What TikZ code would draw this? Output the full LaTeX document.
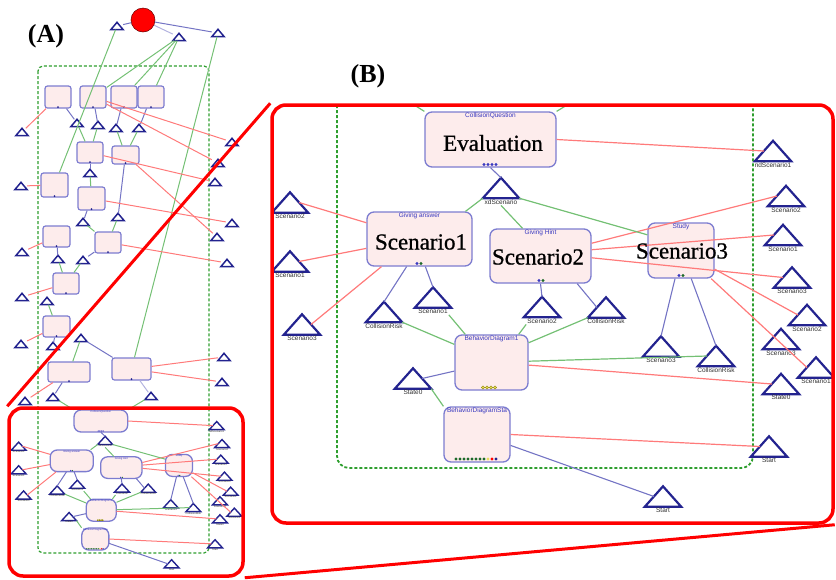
\documentclass[tikz,border=0pt]{standalone}
\usepackage{fontspec}
\setmainfont{Liberation Serif}
\newfontfamily\uifont{Liberation Sans}
\newfontfamily\wordfont[FakeBold=0.8]{Liberation Serif}

\definecolor{boxfill}{HTML}{FDECEC}
\definecolor{boxline}{HTML}{7C7CD0}
\definecolor{trinavy}{HTML}{23238F}
\definecolor{edgered}{HTML}{FF7A7A}
\definecolor{edgegreen}{HTML}{74C074}
\definecolor{edgeblue}{HTML}{7474C4}
\definecolor{labblue}{HTML}{3A3AC0}
\definecolor{labgray}{HTML}{303030}
\definecolor{dashgreen}{HTML}{2E9E2E}
\definecolor{portgreen}{HTML}{1E6A2A}
\definecolor{portyellow}{HTML}{E6DC5A}

\tikzset{
  statebox/.style={draw=boxline, fill=boxfill, line width=1.3pt, rounded corners=7pt, inner sep=0pt},
  boxlab/.style={anchor=north, inner sep=1.5pt, text=labblue, font=\uifont\fontsize{6.5}{7}\selectfont},
  tri/.style={inner sep=0pt, minimum width=36pt, minimum height=20pt},
  triline/.style={draw=trinavy, line width=2.2pt},
  trilab/.style={anchor=north, inner sep=1pt, text=labgray, font=\uifont\fontsize{6.5}{7}\selectfont},
  redge/.style={draw=edgered, line width=1.2pt},
  gedge/.style={draw=edgegreen, line width=1.2pt},
  bedge/.style={draw=edgeblue, line width=1.1pt},
  bigword/.style={inner sep=0pt, font=\wordfont\fontsize{23}{23}\selectfont},
  panel/.style={inner sep=0pt, font=\bfseries\fontsize{26}{26}\selectfont},
  zoomframe/.style={draw=red, line width=3.5pt, rounded corners=14pt, inner sep=0pt},
  callout/.style={draw=red, line width=3pt},
  container/.style={draw=dashgreen, line width=1.8pt, dash pattern=on 3pt off 2pt, rounded corners=12pt},
  minibox/.style={draw=boxline, fill=boxfill, line width=1.2pt, rounded corners=2.5pt, inner sep=0pt},
  minitri/.style={inner sep=0pt, minimum width=12pt, minimum height=7pt},
  minitriline/.style={draw=trinavy, line width=1.5pt},
}

\newcommand\statenode[6]{%
  \node[statebox, minimum width=#4, minimum height=#5] (#1) at (#2,#3) {};
  \node[boxlab] (#1-t) at (#1.north) {#6};
}
\newcommand\trinode[4]{%
  \node[tri] (#1) at (#2,#3) {};
  \draw[triline] (#1.south west) -- (#1.north) -- (#1.south east) -- cycle;
  \node[trilab] (#1-t) at (#1.south) {#4};
  \coordinate (#1-l) at (#2-9,#3);
  \coordinate (#1-r) at (#2+9,#3);
}

\newcommand\scenegraph{%
  \statenode{eval}{490.5}{139.5}{131}{55}{CollisionQuestion}
  \statenode{sc1}{419.5}{239}{105}{54}{Giving answer}
  \statenode{sc2}{540.5}{256}{101}{54}{Giving Hint}
  \statenode{sc3}{681}{250.5}{66}{55}{Study}
  \statenode{bd1}{491.5}{362.5}{73}{55}{BehaviorDiagram1}
  \statenode{bds}{477}{434.5}{66}{55}{BehaviorDiagramSta}
  \foreach \x in {484,488,492,496} \fill[labblue] (\x,164.5) circle (1.7);
  \fill[labblue] (417,263.5) circle (1.7); \fill[portgreen] (421,263.5) circle (1.7);
  \fill[labblue] (539,280.5) circle (1.7); \fill[portgreen] (543,280.5) circle (1.7);
  \fill[labblue] (679,275.5) circle (1.7); \fill[portgreen] (683,275.5) circle (1.7);
  \foreach \x in {483,487,491,495} \filldraw[fill=portyellow, draw=olive, line width=0.4pt] (\x,387.5) circle (1.6);
  \foreach \x in {456,460,...,484} \fill[portgreen] (\x,459) circle (1.7);
  \fill[portyellow] (488,459) circle (1.7);
  \fill[red] (492,459) circle (1.7);
  \fill[trinavy] (496,459) circle (1.7);
  \foreach \n/\x/\y/\lab in {xd/501/188/xdScenario, endS1/773/151/ndScenario1,
      rS2a/786/196/Scenario2, rS1a/783/235/Scenario1, rS3a/792/277.5/Scenario3,
      rS2b/807/315/Scenario2, rS3b/781/339/Scenario3, rS1b/816/367.5/Scenario1,
      rState/781/384/State0, rStart/769/446.5/Start, bStart/663/496.5/Start,
      s3Tri/661/346.5/Scenario3, s3Risk/716/356/CollisionRisk,
      s2Risk/606/307.5/CollisionRisk, s2Tri/542/307/Scenario2,
      lS2/290/202.5/Scenario2, lS1/290/261.5/Scenario1, lS3/302/324.5/Scenario3,
      s1Risk/384/312/CollisionRisk, s1Tri/433/297.5/Scenario1, lState/413/378.5/State0}
    {\trinode{\n}{\x}{\y}{\lab}}
  \draw[redge] (eval.east) -- (endS1-l);
  \draw[redge] (sc1.163) -- (lS2-r);
  \draw[redge] (sc1.190) -- (lS1-r);
  \draw[redge] (sc1.216) -- (lS3-r);
  \draw[redge] (sc2.14) -- (rS2a-l);
  \draw[redge] (sc2.7) -- (rS1a-l);
  \draw[redge] (sc2.358) -- (rS3a-l);
  \draw[redge] (sc3.331) -- (rS2b-l);
  \draw[redge] (sc3.317) -- (rS1b-l);
  \draw[redge] (bd1.356) -- (rState-l);
  \draw[redge] (bds.east) -- (rStart-l);
  \draw[bedge] (eval.south) -- (xd.north);
  \draw[bedge] (sc1.245) -- (s1Risk.north);
  \draw[bedge] (sc1.282) -- (s1Tri.north);
  \draw[bedge] (sc2.south) -- (s2Tri.north);
  \draw[bedge] (sc2.323) -- (s2Risk-l);
  \draw[bedge] (sc3.258) -- (s3Tri.north);
  \draw[bedge] (sc3.290) -- (s3Risk.north);
  \draw[bedge] (bd1.193) -- (lState-r);
  \draw[bedge] (bds.342) -- (bStart-l);
  \draw[gedge] (xd.south west) -- (sc1.31);
  \draw[gedge] (xd-t.south) -- (sc2.123);
  \draw[gedge] (xd.south east) -- (sc3.155);
  \draw[gedge] (s1Risk.south east) -- (bd1.154);
  \draw[gedge] (s1Tri-t.south east) -- (bd1.133);
  \draw[gedge] (s2Tri-t.south west) -- (bd1.46);
  \draw[gedge] (s2Risk.south west) -- (bd1.28);
  \draw[gedge] (bd1.2) -- (s3Risk-l);
  \draw[gedge] (lState.south east) -- (bds.140);
}

\begin{document}
\begin{tikzpicture}[x=1pt, y=-1pt]
  \useasboundingbox (0,0) rectangle (836,579);

  \draw[container, line width=1.2pt, rounded corners=5pt] (38,66) rectangle (209,553);
  \foreach \n/\x/\y/\w/\h in {a1/58/97/26/22, a2/93/97/26/22, a3/124/97/26/22, a4/151/97/26/22,
      a5/90/152.5/26/21, a6/125.5/155/27/18, a7/54.5/185/27/24, a8/91.5/198.5/27/23,
      a9/56.5/236.5/27/21, a10/108/242.5/26/21, a11/66/283.5/26/21, a12/56.5/326.5/27/21,
      a13/69/372/42/20, a14/131.5/369/39/22}
    {\node[minibox, minimum width=\w, minimum height=\h] (\n) at (\x,\y) {};
     \fill[trinavy] ([yshift=1.5pt]\n.south) circle (1pt);}
  \foreach \n/\x/\y in {t1/117/26, t2/179/37, t3/218/33, t4/22/132, t5/77/123, t6/98/125,
      t7/116/128, t8/139/128, t9/232/142, t10/218/163, t11/215/182, t12/90/173, t13/21/186,
      t14/232/223, t15/217/237, t16/227/263, t17/83/222, t18/118/217, t19/22/252,
      t20/58/259, t21/83/260, t22/22/297, t23/47/301, t24/21/344, t25/53/346, t26/81/338,
      t27/224/357, t28/222/382, t29/53/397, t30/151/396, t31/25/401}
    {\node[minitri] (\n) at (\x,\y) {};
     \draw[minitriline] (\n.south west) -- (\n.north) -- (\n.south east) -- cycle;}
  \node[circle, draw=red!40!black, line width=0.5pt, fill=red, minimum size=24pt] (root) at (143,20) {};

  \begin{scope}[shift={(-100.25,365.2)}, xscale=0.41, yscale=0.40, transform shape, name prefix=a-,
      triline/.append style={line width=1.4pt}, redge/.append style={line width=1pt},
      gedge/.append style={line width=1pt}, bedge/.append style={line width=1pt}]
    \scenegraph
  \end{scope}

  \foreach \u/\v in {root/t1, root/t3, a1/t5, a2/t6, a3/t7, a4/t8, a5/t12, a6/t18, a8/t17,
      a9/t20, a10/t21, a12/t25, t26/a14, a13/t29}
    \draw[bedge, line width=1pt] (\u) -- (\v);
  \draw[bedge, draw=edgeblue!55, line width=1pt] (root) -- (t2);
  \draw[bedge, draw=edgeblue!55, line width=1pt] (a14) -- (t30);
  \foreach \u/\v in {t1/a7, t2/a2, t2/a3, t2/a4, t3/a14, t5/a5, t6/a5, t7/a6, t8/a6, t12/a8,
      t17/a10, t18/a10, t20/a11, t21/a11, t23/a12, t26/a13}
    \draw[gedge, line width=1pt] (\u) -- (\v);
  \draw[gedge, line width=1pt] (t29) -- (a-eval.north west);
  \draw[gedge, line width=1pt] (t30) -- (a-eval.north east);
  \foreach \u/\v in {a1/t4, a2/t9, a2/t10, a5/t11, a6/t15, t13/a7, a8/t14, a9/t19, a10/t16,
      a11/t22, a12/t24, a14/t27, a14/t28, a13/t31}
    \draw[redge, line width=1pt] (\u) -- (\v);

  \begin{scope}
    \clip[rounded corners=14pt] (272,105) rectangle (833,523);
    \draw[container] (337,90) -- (337,468) -- (753,468) -- (753,90);
    \scenegraph
    \coordinate (upL) at (374,80);
    \coordinate (upR) at (613,77);
    \draw[gedge] (eval.north west) -- (upL);
    \draw[gedge] (eval.north east) -- (upR);
    \node[bigword] (evalWord) at (493,143) {Evaluation};
    \node[bigword] (sc1Word) at (421,242) {Scenario1};
    \node[bigword] (sc2Word) at (538,257) {Scenario2};
    \node[bigword] (sc3Word) at (682,251) {Scenario3};
  \end{scope}

  \node[zoomframe, minimum width=234, minimum height=168] (frameA) at (126,492) {};
  \node[zoomframe, minimum width=561, minimum height=418] (frameB) at (552.5,314) {};
  \draw[callout] (frameA.north west) -- (frameB.north west);
  \draw[callout] (frameA.south east) -- (frameB.south east);

  \node[panel] (labA) at (46,36) {(A)};
  \node[panel] (labB) at (368,76) {(B)};
\end{tikzpicture}
\end{document}
